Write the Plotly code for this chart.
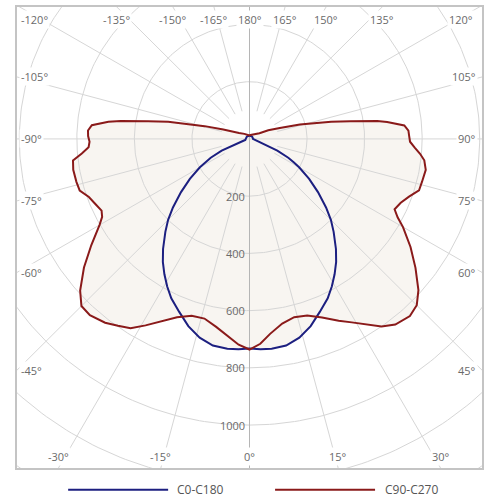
import numpy as np
import plotly.graph_objects as go

ANGLES = [0, 3, 6, 10, 14, 18, 22, 26, 29, 32, 35, 38, 42, 45, 48, 52, 56, 60, 62, 64,
          67, 70, 73, 76, 80, 83, 85, 87, 89, 91, 93, 95, 96, 97, 98, 99, 100, 102, 104,
          106, 110, 115, 120, 135, 150, 165, 180]

# C0-C180 plane, symmetric
C0_C180 = [732, 736, 737, 733, 716, 688, 652, 620, 590, 558, 525, 488, 437, 400, 358, 302,
           250, 200, 175, 150, 105, 45, 22, 15, 13, 12, 12, 12, 12, 12, 12, 12, 12, 12,
           12, 12, 12, 12, 12, 12, 12, 12, 12, 12, 12, 12, 12]

# C90 (right half) and C270 (left half)
C90 = [736, 717, 685, 655, 642, 649, 673, 707, 733, 765, 800, 823, 833, 822, 790, 732,
       675, 616, 583, 561, 571, 590, 616, 618, 622, 612, 595, 575, 558, 555, 553, 540,
       512, 482, 448, 400, 356, 290, 225, 182, 112, 72, 40, 25, 18, 14, 12]
C270 = [736, 720, 694, 667, 647, 650, 672, 712, 745, 780, 797, 815, 829, 826, 792, 730,
        663, 602, 580, 572, 582, 594, 617, 620, 622, 618, 585, 560, 556, 561, 562, 550,
        525, 494, 452, 403, 358, 289, 212, 162, 97, 59, 42, 25, 18, 14, 12]

RINGS = [200, 400, 600, 800, 1000, 1200, 1400]
RING_LABELS = [200, 400, 600, 800, 1000]
SPOKES = list(range(-165, 181, 15))
EDGE_LABELS = [-120, -135, -150, -165, 180, 165, 150, 135, 120,
               -105, -90, -75, -60, -45, -30, -15, 0, 15, 30, 45, 60, 75, 90, 105]

X_MIN, X_MAX = -808, 808
Y_MIN, Y_MAX = -461, 1150

BLUE = "#1c1f80"
RED = "#8a1a1a"
FILL = "#f8f5f1"
GRID = "#d6d6d6"
TEXT = "#6a6a6a"


def to_xy(theta_deg, r):
    t = np.radians(np.asarray(theta_deg, dtype=float))
    r = np.asarray(r, dtype=float)
    return r * np.sin(t), r * np.cos(t)


def full_sweep(left, right):
    ang = np.array(ANGLES, dtype=float)
    theta = np.concatenate([-ang[::-1], ang[1:]])
    r = np.concatenate([np.array(left)[::-1], np.array(right)[1:]])
    return theta, r


fig = go.Figure()

curves = [
    ("C0-C180", full_sweep(C0_C180, C0_C180), BLUE),
    ("C90-C270", full_sweep(C270, C90), RED),
]

# fills under the grid
for name, (theta, r), color in curves:
    x, y = to_xy(theta, r)
    fig.add_trace(go.Scatter(x=x, y=y, mode="lines", fill="toself", fillcolor=FILL,
                             line={"width": 0}, hoverinfo="skip", showlegend=False))

# rings
circle = np.linspace(0, 360, 361)
for ring in RINGS:
    x, y = to_xy(circle, np.full_like(circle, ring))
    fig.add_trace(go.Scatter(x=x, y=y, mode="lines", line={"color": GRID, "width": 1},
                             hoverinfo="skip", showlegend=False))

# spokes
for angle in SPOKES:
    inner = 0 if angle % 90 == 0 else 100
    x, y = to_xy([angle, angle], [inner, 2000])
    color = "#b5b5b5" if angle in (0, 180) else GRID
    fig.add_trace(go.Scatter(x=x, y=y, mode="lines", line={"color": color, "width": 1},
                             hoverinfo="skip", showlegend=False))

for name, (theta, r), color in curves:
    x, y = to_xy(theta, r)
    fig.add_trace(go.Scatter(x=x, y=y, mode="lines", name=name,
                             line={"color": color, "width": 2}, showlegend=False))

annotations = []
for angle in EDGE_LABELS:
    a = np.radians(angle)
    dx, dy = np.sin(a), np.cos(a)
    hits = []
    if dx > 1e-9:
        hits.append((X_MAX / dx, "right"))
    if dx < -1e-9:
        hits.append((X_MIN / dx, "left"))
    if dy > 1e-9:
        hits.append((Y_MAX / dy, "bottom"))
    if dy < -1e-9:
        hits.append((Y_MIN / dy, "top"))
    t, side = min(hits)
    x, y = t * dx, t * dy
    ann = {"x": x, "y": y, "text": f"{angle}°", "showarrow": False,
           "font": {"size": 11, "color": TEXT, "family": "Open Sans"},
           "bgcolor": "white", "borderpad": 1}
    if side == "left":
        ann.update(xanchor="left", yanchor="middle", xshift=2)
    elif side == "right":
        ann.update(xanchor="right", yanchor="middle", xshift=-4)
    else:
        ann.update(xanchor="center", yanchor="top" if side == "top" else "bottom",
                   yshift=-3 if side == "top" else 2)
        if x < X_MIN + 60:
            ann.update(x=X_MIN, xanchor="left", xshift=2)
        elif x > X_MAX - 60:
            ann.update(x=X_MAX, xanchor="right", xshift=-7)
    annotations.append(ann)

for ring in RING_LABELS:
    annotations.append({"x": 0, "y": ring, "text": str(ring), "showarrow": False,
                        "xanchor": "right", "yanchor": "middle", "xshift": -3,
                        "font": {"size": 11, "color": TEXT, "family": "Open Sans"}})

# legend drawn under the plot box
legend_items = [("C0-C180", BLUE, 0.110, 0.325, 0.340), ("C90-C270", RED, 0.555, 0.770, 0.787)]
shapes = []
for name, color, x0, x1, xt in legend_items:
    shapes.append({"type": "line", "xref": "paper", "yref": "paper", "x0": x0, "x1": x1,
                   "y0": -0.047, "y1": -0.047, "line": {"color": color, "width": 2}})
    annotations.append({"xref": "paper", "yref": "paper", "x": xt, "y": -0.047, "text": name,
                        "showarrow": False, "xanchor": "left", "yanchor": "middle",
                        "font": {"size": 12, "color": "#555555", "family": "Open Sans"}})

fig.update_layout(
    width=500, height=500,
    margin={"l": 17, "r": 18, "t": 5, "b": 32},
    paper_bgcolor="white", plot_bgcolor="white",
    annotations=annotations, shapes=shapes, showlegend=False,
)
fig.update_xaxes(range=[X_MIN, X_MAX], showgrid=False, zeroline=False, showticklabels=False,
                 ticks="", showline=True, mirror=True, linecolor="#c4c4c4", linewidth=1.5)
fig.update_yaxes(range=[Y_MAX, Y_MIN], showgrid=False, zeroline=False, showticklabels=False,
                 ticks="", showline=True, mirror=True, linecolor="#c4c4c4", linewidth=1.5)

# the page body keeps an 8px margin by default; drop it so the figure sits at 0,0
fig.write_html("out.html", config={"displayModeBar": False},
               post_script="document.body.style.margin = '0';")
